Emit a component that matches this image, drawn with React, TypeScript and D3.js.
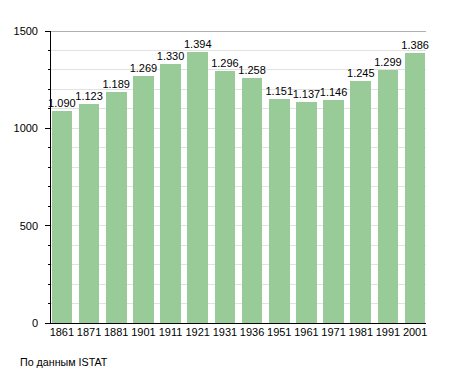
import React from 'react';
import * as d3 from 'd3';

const YEARS = ['1861', '1871', '1881', '1901', '1911', '1921', '1931', '1936', '1951', '1961', '1971', '1981', '1991', '2001'];
const POPULATION = [1090, 1123, 1189, 1269, 1330, 1394, 1296, 1258, 1151, 1137, 1146, 1245, 1299, 1386];
const MAJOR_TICKS = [0, 500, 1000, 1500];
const MINOR_TICKS = d3.range(0, 1501, 100);
const SOURCE = 'По данным  ISTAT';

const width = 455;
const height = 373;
const margin = { top: 31, right: 29, bottom: 50, left: 50 };
const font = '"Liberation Sans", Arial, sans-serif';

const fmt = (v: number) => {
  const s = String(v);
  return s.length > 3 ? s.slice(0, s.length - 3) + '.' + s.slice(-3) : s;
};

export default function App() {
  const x = d3.scaleBand<string>()
    .domain(YEARS)
    .range([margin.left + 1, width - margin.right])
    .paddingInner(0.24)
    .paddingOuter(0.02);
  const y = d3.scaleLinear()
    .domain([0, 1500])
    .range([height - margin.bottom, margin.top]);

  const x0 = margin.left;
  const x1 = width - margin.right;

  return (
    <svg width={width} height={height} style={{ position: 'absolute', left: 0, top: 0, background: '#fff' }}>
      {/* grid */}
      {MINOR_TICKS.filter(t => t > 0).map(t => (
        <line key={'g' + t} x1={x0} x2={x1} y1={y(t)} y2={y(t)}
          stroke={t === 1500 ? '#b0b0b0' : '#e2e2e2'} strokeWidth={1} shapeRendering="crispEdges" />
      ))}
      {/* bars */}
      {YEARS.map((yr, i) => (
        <rect key={yr} x={x(yr)} y={y(POPULATION[i])} width={x.bandwidth()}
          height={y(0) - y(POPULATION[i])} fill="#99cb99" shapeRendering="crispEdges" />
      ))}
      {/* value labels */}
      {YEARS.map((yr, i) => (
        <text key={'v' + yr} x={(x(yr) ?? 0) + x.bandwidth() / 2} y={y(POPULATION[i]) - 4}
          textAnchor="middle" fontFamily={font} fontSize={11} fill="#000">{fmt(POPULATION[i])}</text>
      ))}
      {/* y axis */}
      <line x1={x0} x2={x0} y1={y(1500)} y2={y(0)} stroke="#000" shapeRendering="crispEdges" />
      {MINOR_TICKS.map(t => (
        <line key={'m' + t} x1={x0 - 2} x2={x0} y1={y(t)} y2={y(t)} stroke="#000" shapeRendering="crispEdges" />
      ))}
      {MAJOR_TICKS.map(t => (
        <g key={'t' + t}>
          <line x1={x0 - 5} x2={x0} y1={y(t)} y2={y(t)} stroke="#000" shapeRendering="crispEdges" />
          <text x={38} y={y(t) + 4} textAnchor="end" fontFamily={font} fontSize={11} fill="#000">{t}</text>
        </g>
      ))}
      {/* x axis */}
      <line x1={x0} x2={x1} y1={y(0)} y2={y(0)} stroke="#000" shapeRendering="crispEdges" />
      {YEARS.map(yr => (
        <text key={'x' + yr} x={(x(yr) ?? 0) + x.bandwidth() / 2} y={y(0) + 13}
          textAnchor="middle" fontFamily={font} fontSize={11} fill="#000">{yr}</text>
      ))}
      <text x={20} y={366} fontFamily={font} fontSize={10.7} fill="#000">{SOURCE}</text>
    </svg>
  );
}
